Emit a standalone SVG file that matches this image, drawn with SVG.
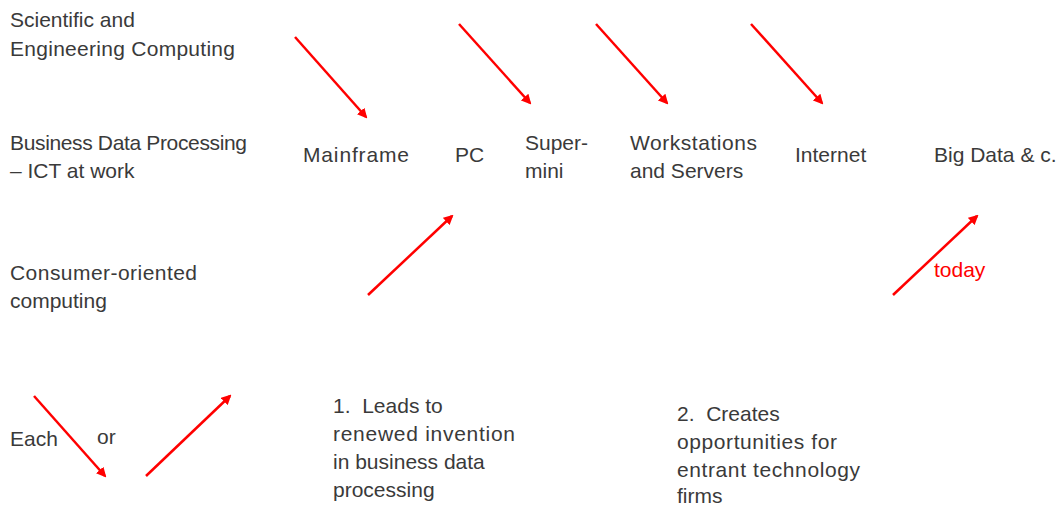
<svg xmlns="http://www.w3.org/2000/svg" width="1057" height="506" viewBox="0 0 1057 506">
  <style>
    .t { font-family: "Liberation Sans", Arial, sans-serif; font-size: 21px; fill: #3a3a3a; white-space: pre; }
    .red { fill: #ff0000; }
    .arr { stroke: #ff0000; stroke-width: 2.5; fill: none; marker-end: url(#head); }
  </style>
  <defs>
    <marker id="head" viewBox="0 0 10 10" refX="8" refY="5" markerWidth="4" markerHeight="4" orient="auto" markerUnits="strokeWidth">
      <path d="M0,0 L10,5 L0,10 z" fill="#ff0000"/>
    </marker>
  </defs>
  <rect width="1057" height="506" fill="#ffffff"/>

  <!-- row labels -->
  <g id="row-scientific">
    <text class="t" x="10" y="27">Scientific and</text>
    <text class="t" x="10" y="56" textLength="225">Engineering Computing</text>
  </g>
  <g id="row-business">
    <text class="t" x="10" y="150" textLength="237">Business Data Processing</text>
    <text class="t" x="10" y="178">– ICT at work</text>
  </g>
  <g id="row-consumer">
    <text class="t" x="10" y="280" textLength="187">Consumer-oriented</text>
    <text class="t" x="10" y="308">computing</text>
  </g>

  <!-- eras -->
  <g id="mainframe"><text class="t" x="303" y="162" textLength="106">Mainframe</text></g>
  <g id="pc"><text class="t" x="455" y="162">PC</text></g>
  <g id="supermini">
    <text class="t" x="525" y="150">Super-</text>
    <text class="t" x="525" y="178">mini</text>
  </g>
  <g id="workstations">
    <text class="t" x="630" y="150" textLength="127">Workstations</text>
    <text class="t" x="630" y="178">and Servers</text>
  </g>
  <g id="internet"><text class="t" x="795" y="162">Internet</text></g>
  <g id="bigdata"><text class="t" x="934" y="162" font-size="20">Big Data &amp; c.</text></g>
  <g id="today"><text class="t red" x="934" y="277">today</text></g>

  <!-- legend and notes -->
  <g id="legend">
    <text class="t" x="10" y="446">Each</text>
    <text class="t" x="97" y="444">or</text>
  </g>
  <g id="note-1">
    <text class="t" x="333" y="413">1.  Leads to</text>
    <text class="t" x="333" y="441" textLength="182">renewed invention</text>
    <text class="t" x="333" y="469">in business data</text>
    <text class="t" x="333" y="497">processing</text>
  </g>
  <g id="note-2">
    <text class="t" x="677" y="421">2.  Creates</text>
    <text class="t" x="677" y="449" textLength="160">opportunities for</text>
    <text class="t" x="677" y="477" textLength="183">entrant technology</text>
    <text class="t" x="677" y="503">firms</text>
  </g>

  <!-- connectors -->
  <g id="connectors">
    <line class="arr" x1="295" y1="37" x2="366" y2="117"/>
    <line class="arr" x1="459" y1="24" x2="530" y2="103"/>
    <line class="arr" x1="596" y1="24" x2="667" y2="103"/>
    <line class="arr" x1="751" y1="24" x2="822" y2="103"/>
    <line class="arr" x1="368" y1="295" x2="452" y2="216"/>
    <line class="arr" x1="893" y1="295" x2="977" y2="216"/>
    <line class="arr" x1="34" y1="396" x2="105" y2="476"/>
    <line class="arr" x1="146" y1="476" x2="230" y2="396"/>
  </g>
</svg>
